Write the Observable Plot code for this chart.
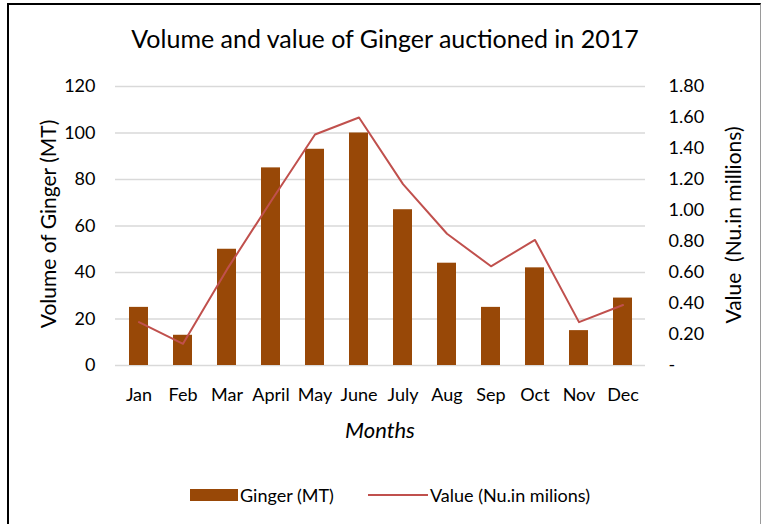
<!DOCTYPE html>
<html><head><meta charset="utf-8">
<script src="https://cdn.jsdelivr.net/npm/d3@7"></script>
<script src="https://cdn.jsdelivr.net/npm/@observablehq/plot@0.6"></script>
<style>
body{margin:0;background:#fff;font-family:Lato,sans-serif;color:#000}
#wrap{position:relative;width:765px;height:524px;overflow:hidden;background:#fff}
#frame{position:absolute;left:7px;top:3px;width:754px;height:560px;border-left:2px solid #000;border-top:2px solid #000;border-right:1px solid #9a9a9a;box-sizing:border-box}
#chart{position:absolute;left:0;top:0}
.t{position:absolute;white-space:nowrap;line-height:1}
#title{left:0;width:770px;top:26px;text-align:center;font-size:25px}
#ylab{left:47px;top:224px;font-size:21px;transform:translate(-50%,-50%) rotate(-90deg)}
#ylab2{left:732px;top:225px;font-size:21px;transform:translate(-50%,-50%) rotate(-90deg)}
#xlab{left:0;width:760px;text-align:center;top:419px;font-size:22px;font-style:italic}
#sw{position:absolute;left:190px;top:489px;width:48px;height:12px;background:#984807}
#ln{position:absolute;left:368px;top:494px;width:60px;height:2px;background:#c0504d}
#lg1{left:240px;top:486px;font-size:18px}
#lg2{left:430px;top:486px;font-size:18px}
</style></head>
<body>
<div id="wrap">
<div id="frame"></div>
<div id="chart"></div>
<div class="t" id="title">Volume and value of Ginger auctioned in 2017</div>
<div class="t" id="ylab">Volume of Ginger (MT)</div>
<div class="t" id="ylab2">Value&nbsp; (Nu.in millions)</div>
<div class="t" id="xlab">Months</div>
<div id="sw"></div><div class="t" id="lg1">Ginger (MT)</div>
<div id="ln"></div><div class="t" id="lg2">Value (Nu.in milions)</div>
</div>
<script>
const months = ["Jan","Feb","Mar","April","May","June","July","Aug","Sep","Oct","Nov","Dec"];
const volume = [25,13,50,85,93,100,67,44,25,42,15,29];
const value = [0.28,0.14,0.62,1.06,1.49,1.60,1.17,0.85,0.64,0.81,0.28,0.39];
const leftTicks = [0,20,40,60,80,100,120];
const rightTicks = [0,0.2,0.4,0.6,0.8,1.0,1.2,1.4,1.6,1.8];
const rightLabels = ["-","0.20","0.40","0.60","0.80","1.00","1.20","1.40","1.60","1.80"];

const yMax = 120, rMax = 1.8, k = yMax / rMax;
const data = months.map((m, i) => ({month: m, volume: volume[i], value: value[i]}));
const rightPos = rightTicks.map(v => v * k);

const chart = Plot.plot({
  width: 765, height: 524,
  marginLeft: 115, marginRight: 120, marginTop: 86, marginBottom: 159,
  style: {fontFamily: "Lato, sans-serif", fontSize: "18px", background: "transparent", color: "#000"},
  x: {domain: months, paddingInner: 0.57, paddingOuter: 0.285, axis: null},
  y: {domain: [0, yMax], axis: null},
  marks: [
    Plot.gridY(leftTicks, {stroke: "#d9d9d9", strokeOpacity: 1, strokeWidth: 1.5}),
    Plot.barY(data, {x: "month", y: "volume", fill: "#984807"}),
    Plot.line(data, {x: "month", y: d => d.value * k, stroke: "#c0504d", strokeWidth: 2}),
    Plot.axisY({anchor: "left", ticks: leftTicks, tickSize: 0, tickPadding: 20, label: null, fontSize: 18}),
    Plot.axisY({anchor: "right", ticks: rightPos, tickSize: 0, tickPadding: 23, label: null, fontSize: 18,
      tickFormat: d => rightLabels[rightPos.findIndex(p => Math.abs(p - d) < 1e-6)]}),
    Plot.axisX({tickSize: 0, tickPadding: 23, label: null, fontSize: 18})
  ]
});
document.getElementById("chart").appendChild(chart);
</script>
</body></html>
